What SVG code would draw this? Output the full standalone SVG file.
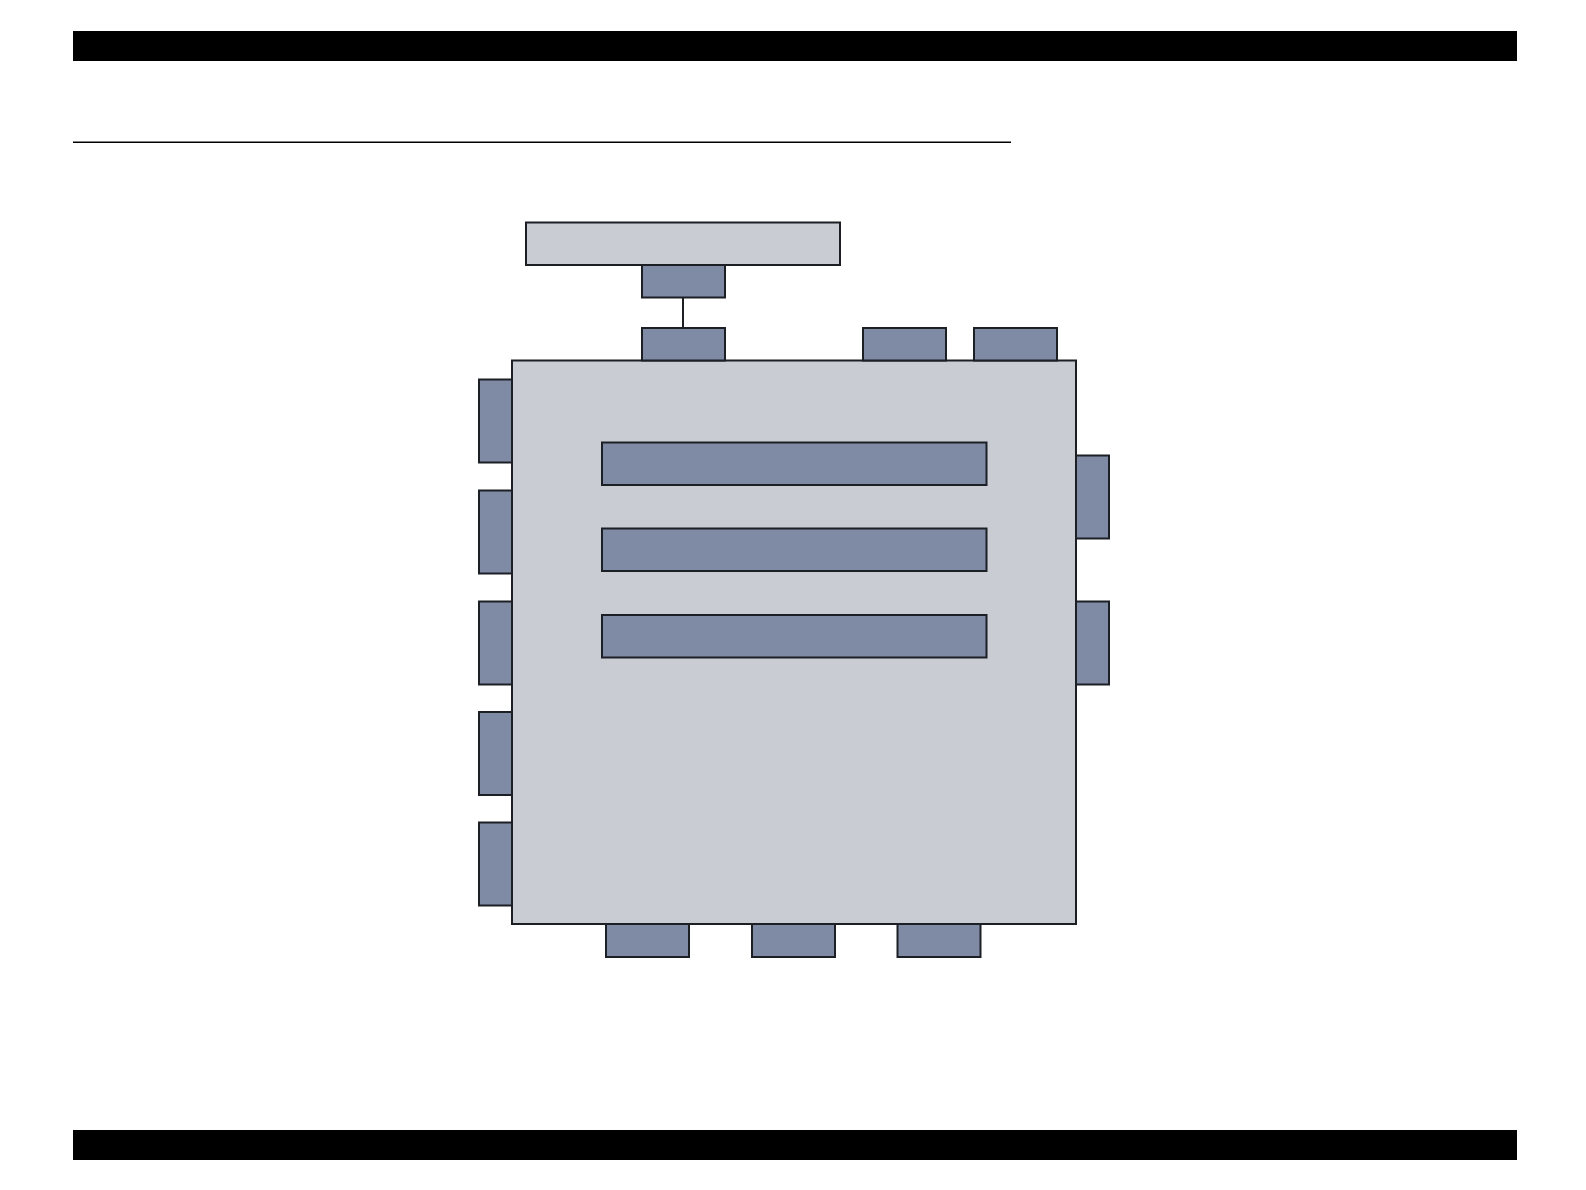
<svg xmlns="http://www.w3.org/2000/svg" width="1586" height="1190" viewBox="0 0 1586 1190">
<style>
.bar{fill:#000}
.light{fill:#C9CCD3;stroke:#1c1f24;stroke-width:2}
.port{fill:#7F8AA5;stroke:#1c1f24;stroke-width:2}
.conn{stroke:#1c1f24;stroke-width:2;fill:none}
</style>
<rect width="1586" height="1190" fill="#fff"/>
<g id="header">
<rect class="bar" x="73" y="31" width="1444" height="30"/>
<line x1="73" y1="142.3" x2="1011" y2="142.3" stroke="#000" stroke-width="1.4"/>
</g>
<g id="footer">
<rect class="bar" x="73" y="1130" width="1444" height="30"/>
</g>
<g id="connectors">
<line class="conn" x1="683" y1="297.5" x2="683" y2="328"/>
</g>
<g id="top-unit">
<rect class="light" x="526" y="222.5" width="314" height="42.5"/>
</g>
<g id="top-unit-port">
<rect class="port" x="642" y="265" width="83" height="32.5"/>
</g>
<g id="main-unit">
<rect class="light" x="512" y="360.5" width="564" height="563.5"/>
</g>
<g id="port-top-1"><rect class="port" x="642" y="328" width="83" height="32.5"/></g>
<g id="port-top-2"><rect class="port" x="863" y="328" width="83" height="32.5"/></g>
<g id="port-top-3"><rect class="port" x="974" y="328" width="83" height="32.5"/></g>
<g id="port-left-1"><rect class="port" x="479" y="379.5" width="33" height="83"/></g>
<g id="port-left-2"><rect class="port" x="479" y="490.5" width="33" height="83"/></g>
<g id="port-left-3"><rect class="port" x="479" y="601.5" width="33" height="83"/></g>
<g id="port-left-4"><rect class="port" x="479" y="712" width="33" height="83"/></g>
<g id="port-left-5"><rect class="port" x="479" y="822.5" width="33" height="83"/></g>
<g id="port-right-1"><rect class="port" x="1076" y="455.5" width="33" height="83"/></g>
<g id="port-right-2"><rect class="port" x="1076" y="601.5" width="33" height="83"/></g>
<g id="inner-1"><rect class="port" x="602" y="442.5" width="384.5" height="42.5"/></g>
<g id="inner-2"><rect class="port" x="602" y="528.5" width="384.5" height="42.5"/></g>
<g id="inner-3"><rect class="port" x="602" y="615" width="384.5" height="42.5"/></g>
<g id="port-bottom-1"><rect class="port" x="606" y="924" width="83" height="33"/></g>
<g id="port-bottom-2"><rect class="port" x="752" y="924" width="83" height="33"/></g>
<g id="port-bottom-3"><rect class="port" x="897.5" y="924" width="83" height="33"/></g>
</svg>
